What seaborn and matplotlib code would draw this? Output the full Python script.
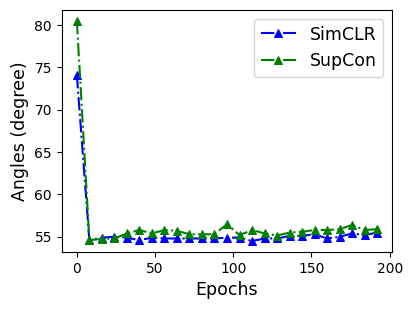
import matplotlib
matplotlib.use("Agg")
import matplotlib.pyplot as plt
import seaborn as sns
import pandas as pd

epochs = list(range(0, 200, 8))
simclr = [74.1, 54.6, 54.9, 55.0, 54.9, 54.6, 54.9, 54.8, 54.8, 54.8, 54.8, 54.8,
          54.9, 54.9, 54.5, 54.8, 54.8, 55.1, 55.1, 55.3, 54.8, 55.0, 55.4, 55.2, 55.5]
supcon = [80.5, 54.6, 54.75, 54.8, 55.4, 55.8, 55.4, 55.8, 55.7, 55.3, 55.3, 55.3,
          56.5, 55.2, 55.8, 55.4, 55.15, 55.5, 55.6, 55.8, 55.8, 55.9, 56.4, 55.8, 55.9]

sns.set_style("ticks", {"axes.edgecolor": "black", "xtick.color": "black",
                        "ytick.color": "black", "text.color": "black",
                        "axes.labelcolor": "black"})
plt.rcParams['font.family'] = ['DejaVu Sans']

df = pd.DataFrame({"epoch": epochs, "SimCLR": simclr, "SupCon": supcon})

fig, ax = plt.subplots(figsize=(4.15, 3.1), dpi=100)
fig.subplots_adjust(left=0.149, right=0.945, top=0.968, bottom=0.187)

sns.lineplot(data=df, x="epoch", y="SimCLR", ax=ax, color="blue", marker="^",
             markersize=6, markeredgecolor="blue", linestyle="-.", linewidth=1.5,
             label="SimCLR")
sns.lineplot(data=df, x="epoch", y="SupCon", ax=ax, color="green", marker="^",
             markersize=6, markeredgecolor="green", linestyle="-.", linewidth=1.5,
             label="SupCon")

ax.set_xticks([0, 50, 100, 150, 200])
ax.set_yticks([55, 60, 65, 70, 75, 80])
ax.tick_params(labelsize=10)
ax.set_xlabel("Epochs", fontsize=12.5)
ax.set_ylabel("Angles (degree)", fontsize=12.5)
ax.legend(loc="upper right", fontsize=12.5)

plt.savefig("out.png", dpi=100)
